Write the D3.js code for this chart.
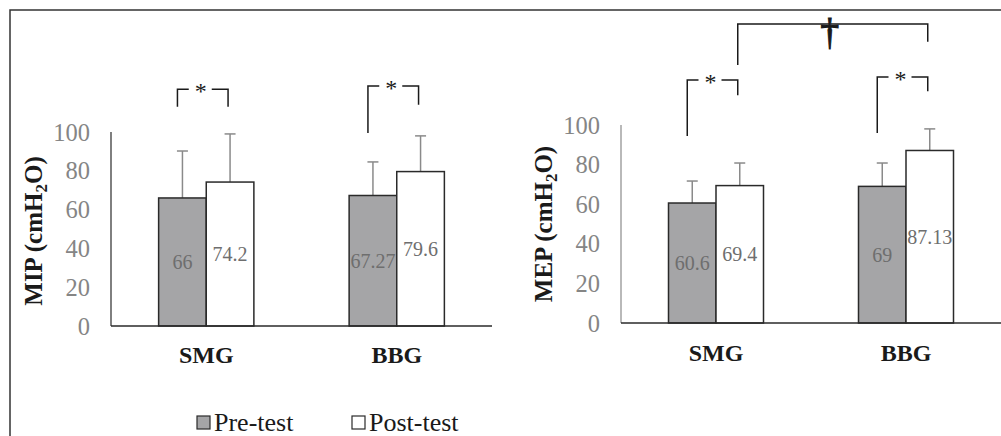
<!DOCTYPE html>
<html><head><meta charset="utf-8">
<script src="https://cdn.jsdelivr.net/npm/d3@7"></script>
<style>body{margin:0;background:#fff}svg{display:block}svg text{font-family:"Liberation Serif","Times New Roman","DejaVu Serif",serif}</style>
</head><body>
<script>
const groups = ["SMG", "BBG"];
const series = ["Pre-test", "Post-test"];
const mipPre = [66, 67.27];
const mipPost = [74.2, 79.6];
const mipPreSD = [24.2, 17.3];
const mipPostSD = [24.8, 18.4];
const mepPre = [60.6, 69];
const mepPost = [69.4, 87.13];
const mepPreSD = [11.1, 11.8];
const mepPostSD = [11.4, 10.9];
const yTicks = [0, 20, 40, 60, 80, 100];
const mipLabels = ["66", "67.27"];
const mipPostLabels = ["74.2", "79.6"];
const mepLabels = ["60.6", "69"];
const mepPostLabels = ["69.4", "87.13"];

const W = 1001, H = 436;
const svg = d3.select("body").append("svg").attr("width", W).attr("height", H);

// frame
svg.append("path").attr("d", `M10,${H} L10,10 L${W},10`).attr("fill", "none").attr("stroke", "#333").attr("stroke-width", 1.5);

function panel(cfg) {
  const x0 = d3.scaleBand().domain(groups).range(cfg.xr).paddingInner(0.5).paddingOuter(0.25);
  const x1 = d3.scaleBand().domain(series).range([0, x0.bandwidth()]);
  const y = d3.scaleLinear().domain([0, 100]).range(cfg.yr);
  const g = svg.append("g");
  const rows = [];
  groups.forEach((gr, i) => {
    rows.push({g: gr, s: series[0], v: cfg.pre[i], sd: cfg.preSD[i], lab: cfg.preLab[i]});
    rows.push({g: gr, s: series[1], v: cfg.post[i], sd: cfg.postSD[i], lab: cfg.postLab[i]});
  });
  const cx = d => x0(d.g) + x1(d.s) + x1.bandwidth() / 2;

  // error bars (upper only)
  rows.forEach(d => {
    const xc = cx(d);
    g.append("line").attr("x1", xc).attr("x2", xc).attr("y1", y(d.v)).attr("y2", y(d.v + d.sd)).attr("stroke", "#8a8a8a").attr("stroke-width", 1.5);
    g.append("line").attr("x1", xc - 5.5).attr("x2", xc + 5.5).attr("y1", y(d.v + d.sd)).attr("y2", y(d.v + d.sd)).attr("stroke", "#8a8a8a").attr("stroke-width", 1.5);
  });
  // bars
  g.selectAll("rect.bar").data(rows).join("rect")
    .attr("x", d => x0(d.g) + x1(d.s)).attr("width", x1.bandwidth())
    .attr("y", d => y(d.v)).attr("height", d => y(0) - y(d.v))
    .attr("fill", d => d.s === series[0] ? "#a5a5a7" : "#fff")
    .attr("stroke", "#2a2a2a").attr("stroke-width", 1.5);
  // value labels
  g.selectAll("text.val").data(rows).join("text")
    .attr("x", cx).attr("y", d => y(d.v / 2)).attr("dy", "0.35em")
    .attr("text-anchor", "middle").attr("font-size", 20)
    .attr("fill", "#6e6e6e").text(d => d.lab);
  // y axis
  g.append("line").attr("x1", cfg.xr[0]).attr("x2", cfg.xr[0]).attr("y1", y(0)).attr("y2", y(100)).attr("stroke", cfg.yAxisColor).attr("stroke-width", 1.2);
  g.selectAll("text.tick").data(yTicks).join("text")
    .attr("x", cfg.xr[0] - 21).attr("y", d => y(d)).attr("dy", "0.35em")
    .attr("text-anchor", "end").attr("font-size", 24.5)
    .attr("fill", "#858585").text(d => d);
  // x axis
  g.append("line").attr("x1", cfg.xr[0]).attr("x2", cfg.xr[1]).attr("y1", y(0)).attr("y2", y(0)).attr("stroke", "#2a2a2a").attr("stroke-width", 1.5);
  g.selectAll("text.cat").data(groups).join("text")
    .attr("x", d => x0(d) + x0.bandwidth() / 2).attr("y", cfg.catY)
    .attr("text-anchor", "middle").attr("font-size", 24)
    .attr("font-weight", "bold").attr("fill", "#1a1a1a").text(d => d);
  // y title
  const t = g.append("text").attr("transform", `translate(${cfg.titleX},${cfg.titleY}) rotate(-90)`)
    .attr("text-anchor", "middle").attr("font-size", 25)
    .attr("font-weight", "bold").attr("fill", "#1a1a1a");
  t.append("tspan").text(cfg.title + " (cmH");
  t.append("tspan").attr("font-size", 17).attr("dy", 5).text("2");
  t.append("tspan").attr("dy", -5).text("O)");

  // brackets
  function bracket(xa, xb, yl, ya, yb, sym, big) {
    const ym = y(yl);
    const mid = (xa + xb) / 2;
    const gap = big ? 0 : 11;
    g.append("path").attr("d", `M${xa},${y(ya)} L${xa},${ym} L${mid - gap - 3},${ym}`).attr("fill", "none").attr("stroke", "#1a1a1a").attr("stroke-width", 1.5);
    g.append("path").attr("d", `M${mid + gap - 2},${ym} L${xb},${ym} L${xb},${y(yb)}`).attr("fill", "none").attr("stroke", "#1a1a1a").attr("stroke-width", 1.5);
    g.append("text").attr("x", mid + (big ? -3 : -2)).attr("y", ym + (big ? 21 : 10))
      .attr("text-anchor", "middle")
      .attr("font-size", big ? 38 : 24)
      .attr("fill", "#1a1a1a").attr("stroke", big ? "#1a1a1a" : "none").attr("stroke-width", big ? 1 : 0)
      .text(sym);
  }
  cfg.brackets.forEach(b => {
    const xa = x0(groups[b.gi]) + x1(series[0]) + x1.bandwidth() / 2 - 5;
    const xb = x0(groups[b.gi]) + x1(series[1]) + x1.bandwidth() / 2 - 2;
    bracket(xa, xb, b.level, b.left, b.right, "*", false);
  });
  if (cfg.dagger) {
    const d = cfg.dagger;
    const xa = x0(groups[0]) + x1(series[1]) + x1.bandwidth() / 2 - 2;
    const xb = x0(groups[1]) + x1(series[1]) + x1.bandwidth() / 2 - 2;
    bracket(xa, xb, d.level, d.left, d.right, "†", true);
  }
}

panel({
  xr: [111, 492], yr: [326, 132], pre: mipPre, post: mipPost, preSD: mipPreSD, postSD: mipPostSD,
  preLab: mipLabels, postLab: mipPostLabels, yAxisColor: "#2a2a2a", catY: 363,
  title: "MIP", titleX: 42, titleY: 231,
  brackets: [{gi: 0, level: 122, left: 113, right: 113}, {gi: 1, level: 123.7, left: 99.5, right: 114}]
});
panel({
  xr: [621, 1001], yr: [323, 125], pre: mepPre, post: mepPost, preSD: mepPreSD, postSD: mepPostSD,
  preLab: mepLabels, postLab: mepPostLabels, yAxisColor: "#8a8a8a", catY: 361,
  title: "MEP", titleX: 552, titleY: 224,
  brackets: [{gi: 0, level: 122.7, left: 94.4, right: 115}, {gi: 1, level: 124.2, left: 96, right: 117}],
  dagger: {level: 151, left: 130.3, right: 142}
});

// legend
const leg = svg.append("g");
const legX = [197, 352];
series.forEach((s, i) => {
  leg.append("rect").attr("x", legX[i]).attr("y", 416).attr("width", 13).attr("height", 13)
    .attr("fill", i === 0 ? "#a5a5a7" : "#fff").attr("stroke", "#2a2a2a").attr("stroke-width", 1.2);
  leg.append("text").attr("x", legX[i] + 17).attr("y", 431).attr("font-size", 26)
    .attr("fill", "#1a1a1a").text(s);
});
</script>
</body></html>
